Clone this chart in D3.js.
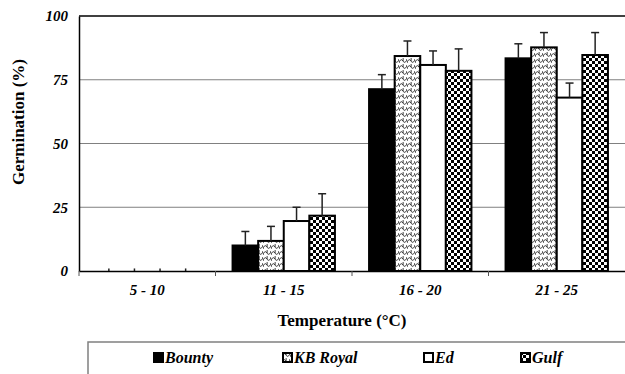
<!DOCTYPE html>
<html>
<head>
<meta charset="utf-8">
<script src="https://cdn.jsdelivr.net/npm/d3@7"></script>
<style>
  body { margin: 0; background: #fff; }
</style>
</head>
<body>
<div id="chart"></div>
<script>
const categories = ['5 - 10', '11 - 15', '16 - 20', '21 - 25'];
const seriesNames = ['Bounty', 'KB Royal', 'Ed', 'Gulf'];
const bountyValues = [0, 10, 71.3, 83.4];
const kbRoyalValues = [0, 11.8, 84.3, 87.7];
const edValues = [0, 19.6, 80.8, 68];
const gulfValues = [0, 21.7, 78.5, 84.7];
const bountyErr = [1, 5.5, 5.7, 5.7];
const kbRoyalErr = [1, 5.7, 5.9, 5.8];
const edErr = [1, 5.4, 5.5, 5.7];
const gulfErr = [1, 8.6, 8.6, 8.8];
const yTicks = [0, 25, 50, 75, 100];

const values = [bountyValues, kbRoyalValues, edValues, gulfValues];
const errors = [bountyErr, kbRoyalErr, edErr, gulfErr];

const FONT = 'Liberation Serif';
const W = 625, H = 374;
const margin = { top: 16, left: 79, right: 0, bottom: 103 };
const width = W - margin.left - margin.right;
const height = H - margin.top - margin.bottom;

const svg = d3.select('#chart').append('svg')
  .attr('width', W)
  .attr('height', H)
  .attr('font-family', FONT);

// fill patterns
const defs = svg.append('defs');

const wave = defs.append('pattern')
  .attr('id', 'wave')
  .attr('patternUnits', 'userSpaceOnUse')
  .attr('width', 8).attr('height', 6);
wave.append('rect').attr('width', 8).attr('height', 6).attr('fill', '#fff');
wave.append('path')
  .attr('d', 'M0,5 C1,1 3,1 4,3 M4,3 C5,5 7,5 8,1 M4,0 C4.5,1 4,2 4,3')
  .attr('fill', 'none')
  .attr('stroke', '#000')
  .attr('stroke-width', 0.8);

const checker = defs.append('pattern')
  .attr('id', 'checker')
  .attr('patternUnits', 'userSpaceOnUse')
  .attr('width', 6).attr('height', 6);
checker.append('rect').attr('width', 6).attr('height', 6).attr('fill', '#fff');
checker.append('rect').attr('width', 3).attr('height', 3).attr('fill', '#000');
checker.append('rect').attr('x', 3).attr('y', 3).attr('width', 3).attr('height', 3).attr('fill', '#000');

const fills = ['#000', 'url(#wave)', '#fff', 'url(#checker)'];

const g = svg.append('g')
  .attr('transform', 'translate(' + margin.left + ',' + margin.top + ')');

const x = d3.scaleBand()
  .domain(categories)
  .range([0, width])
  .paddingInner(0)
  .paddingOuter(0);

const xs = d3.scaleBand()
  .domain(seriesNames)
  .range([x.bandwidth() * 0.125, x.bandwidth() * 0.875]);

const y = d3.scaleLinear()
  .domain([0, 100])
  .range([height, 0]);

// grid lines
g.selectAll('.grid')
  .data(yTicks.filter(d => d > 0 && d < 100))
  .enter().append('line')
  .attr('x1', 0).attr('x2', width)
  .attr('y1', d => y(d)).attr('y2', d => y(d))
  .attr('stroke', '#808080')
  .attr('stroke-width', 1);

// top border
g.append('line')
  .attr('x1', 0).attr('x2', width)
  .attr('y1', y(100)).attr('y2', y(100))
  .attr('stroke', '#000')
  .attr('stroke-width', 1.5);

// bars
const data = [];
categories.forEach((c, i) => {
  seriesNames.forEach((s, j) => {
    data.push({ cat: c, series: s, j: j, v: values[j][i], e: errors[j][i] });
  });
});

g.selectAll('.bar')
  .data(data.filter(d => d.v > 0))
  .enter().append('rect')
  .attr('x', d => x(d.cat) + xs(d.series))
  .attr('y', d => y(d.v))
  .attr('width', xs.bandwidth())
  .attr('height', d => y(0) - y(d.v))
  .attr('fill', d => fills[d.j])
  .attr('stroke', '#000')
  .attr('stroke-width', 2);

// error bars (upper only)
const eb = g.selectAll('.err')
  .data(data)
  .enter().append('g');
eb.append('line')
  .attr('x1', d => x(d.cat) + xs(d.series) + xs.bandwidth() / 2)
  .attr('x2', d => x(d.cat) + xs(d.series) + xs.bandwidth() / 2)
  .attr('y1', d => y(d.v))
  .attr('y2', d => y(d.v + d.e))
  .attr('stroke', '#222')
  .attr('stroke-width', 1.5);
eb.filter(d => d.e >= 2).append('line')
  .attr('x1', d => x(d.cat) + xs(d.series) + xs.bandwidth() / 2 - 4)
  .attr('x2', d => x(d.cat) + xs(d.series) + xs.bandwidth() / 2 + 4)
  .attr('y1', d => y(d.v + d.e))
  .attr('y2', d => y(d.v + d.e))
  .attr('stroke', '#222')
  .attr('stroke-width', 1.5);

// y axis
const yAxis = g.append('g')
  .call(d3.axisLeft(y).tickValues(yTicks).tickSize(0).tickPadding(11));
yAxis.select('.domain').attr('stroke', '#000').attr('stroke-width', 1.5);
yAxis.selectAll('text')
  .attr('font-family', FONT)
  .attr('font-size', 15)
  .attr('font-weight', 'bold')
  .attr('font-style', 'italic')
  .attr('fill', '#000');

// x axis
const xAxis = g.append('g')
  .attr('transform', 'translate(0,' + height + ')')
  .call(d3.axisBottom(x).tickSize(0).tickPadding(13));
xAxis.select('.domain').attr('stroke', '#000').attr('stroke-width', 1.5);
xAxis.selectAll('text')
  .attr('font-family', FONT)
  .attr('font-size', 15)
  .attr('font-weight', 'bold')
  .attr('font-style', 'italic')
  .attr('fill', '#000');
// category separators
xAxis.selectAll('.sep')
  .data(categories)
  .enter().append('line')
  .attr('x1', d => x(d)).attr('x2', d => x(d))
  .attr('y1', 0).attr('y2', 5)
  .attr('stroke', '#555')
  .attr('stroke-width', 1);

// axis titles
svg.append('text')
  .attr('x', 342)
  .attr('y', 326)
  .attr('text-anchor', 'middle')
  .attr('font-family', FONT)
  .attr('font-size', 17)
  .attr('font-weight', 'bold')
  .text('Temperature (°C)');

svg.append('text')
  .attr('transform', 'translate(24,122) rotate(-90)')
  .attr('text-anchor', 'middle')
  .attr('font-family', FONT)
  .attr('font-size', 17)
  .attr('font-weight', 'bold')
  .text('Germination (%)');

// legend
svg.append('rect')
  .attr('x', 88).attr('y', 342)
  .attr('width', 600).attr('height', 60)
  .attr('fill', 'none')
  .attr('stroke', '#808080')
  .attr('stroke-width', 1.5);

const legendX = [153, 282, 423, 520];
const legend = svg.selectAll('.leg')
  .data(seriesNames)
  .enter().append('g')
  .attr('transform', (d, i) => 'translate(' + legendX[i] + ',352)');
legend.append('rect')
  .attr('x', 1).attr('y', 1)
  .attr('width', 9).attr('height', 9)
  .attr('fill', (d, i) => fills[i])
  .attr('stroke', '#000')
  .attr('stroke-width', 2);
legend.append('text')
  .attr('x', 12)
  .attr('y', 11)
  .attr('font-family', FONT)
  .attr('font-size', 16)
  .attr('font-weight', 'bold')
  .attr('font-style', 'italic')
  .text(d => d);
</script>
</body>
</html>
